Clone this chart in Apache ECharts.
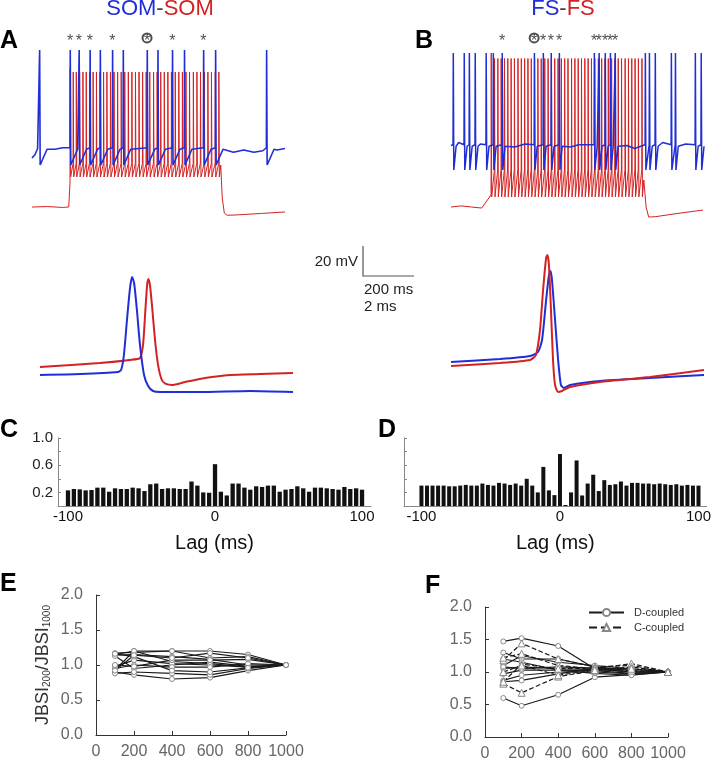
<!DOCTYPE html>
<html>
<head>
<meta charset="utf-8">
<script src="https://cdn.jsdelivr.net/npm/echarts@6/dist/echarts.min.js"></script>
<style>
html, body { margin: 0; padding: 0; background: #fff; }
#main { width: 714px; height: 762px; }
</style>
</head>
<body>
<div id="main"></div>
<script>
var chart = echarts.init(document.getElementById('main'));
var FONT = 'Liberation Sans, Arial, sans-serif';
var BLUE = '#1f2ed6', RED = '#d42222';

// ---- A / B : spike times (ms) ----
var aBlueSpikes = [29, 149, 184, 227, 267, 315, 357, 451, 493, 550, 597, 672, 719, 919];
var aRedSpikes = [149, 161, 173, 186, 199, 212, 225, 239, 252, 266, 280, 293, 307, 321, 335, 349, 363, 377, 391, 405, 419, 433,
    447, 461, 476, 490, 504, 518, 532, 546, 561, 575, 589, 603, 617, 632, 646, 660, 675, 689, 703, 718, 732];
var aStars = [149, 184, 227, 315, 550, 672];
var aCircled = [451];
// baseline points (ms, mV offset)
var aBlueKeys = [[0, 44.7], [12, 47], [22, 51], [90, 50.5], [120, 51.5], [790, 48.5], [830, 50], [870, 48.5], [905, 49.5], [960, 50], [992, 51]];
var aRedKeys = [[0, 12], [60, 12.3], [120, 11.7], [144, 12], [740, 40], [746, 18], [754, 8], [765, 6.5], [800, 6.7], [900, 7.7], [992, 8.7]];

var bBlueSpikes = [8, 51, 71, 94, 137, 165, 200, 326, 361, 392, 424, 561, 580, 604, 624, 643, 761, 777, 800, 863, 879, 957, 980];
var bRedSpikes = [157, 170, 183, 196, 209, 222, 235, 248, 262, 275, 288, 301, 314, 327, 340, 353, 367, 380, 393, 406, 419, 432,
    445, 458, 472, 485, 498, 511, 524, 537, 550, 563, 577, 590, 603, 616, 629, 642, 655, 668, 682, 695, 708, 721, 734, 748];
var bStars = [200, 361, 392, 424, 561, 580, 604, 624, 643];
var bCircled = [326];
var bBlueKeys = [[0, 53], [30, 55], [115, 54], [250, 52], [290, 54], [470, 52], [500, 53.5], [690, 53], [720, 51], [830, 55], [920, 54], [988, 52]];
var bRedKeys = [[0, 12], [40, 12.7], [80, 12], [120, 11.3], [155, 12], [756, 30], [765, 12], [775, 5.3], [800, 5.5], [880, 7.5], [988, 10]];

// ---- single spikes (ms, mV offset) ----
var saBlue = [[0, 16.7], [1.57, 17.3], [3.06, 18.7], [3.18, 20], [3.29, 30], [3.41, 53.3], [3.53, 74.7], [3.61, 82], [3.69, 78], [3.80, 60],
    [3.92, 36.7], [4.08, 16.7], [4.24, 9.3], [4.43, 6], [4.71, 5.3], [6.27, 5.3], [8.24, 6], [9.92, 5.3]];
var saRed = [[0, 22], [2.35, 24.7], [3.53, 26.7], [3.92, 28], [4.04, 36.7], [4.12, 56.7], [4.20, 76.7], [4.25, 80.7], [4.31, 76.7], [4.39, 63.3],
    [4.51, 40], [4.63, 23.3], [4.78, 13.3], [4.94, 10.7], [5.18, 10], [5.69, 12], [6.47, 14.7], [7.45, 16.7], [8.63, 17.3], [9.92, 18]];
var sbBlue = [[0, 25.3], [1.92, 27.3], [3.10, 29.3], [3.41, 32], [3.57, 40], [3.73, 66.7], [3.84, 83.3], [3.90, 86], [3.96, 80], [4.08, 53.3],
    [4.20, 26.7], [4.31, 10], [4.43, 8], [4.67, 10], [5.84, 12.7], [7.80, 14.7], [9.92, 16.7]];
var sbRed = [[0, 22.7], [1.92, 24.7], [3.10, 26.7], [3.33, 30], [3.49, 46.7], [3.61, 73.3], [3.73, 94.7], [3.78, 96.7], [3.84, 90], [3.92, 60],
    [4.00, 26.7], [4.08, 10], [4.20, 5.3], [4.35, 6], [4.67, 8.7], [5.84, 12], [7.80, 15.3], [9.92, 20]];

// ---- C / D : cross-correlograms ----
var lags = [-100, -96, -92, -88, -84, -80, -76, -72, -68, -64, -60, -56, -52, -48, -44, -40, -36, -32, -28, -24, -20, -16, -12, -8, -4, 0,
    4, 8, 12, 16, 20, 24, 28, 32, 36, 40, 44, 48, 52, 56, 60, 64, 68, 72, 76, 80, 84, 88, 92, 96, 100];
var cValues = [0.23, 0.25, 0.245, 0.23, 0.235, 0.27, 0.27, 0.21, 0.26, 0.25, 0.25, 0.27, 0.26, 0.22, 0.32, 0.33, 0.25, 0.26, 0.26, 0.25,
    0.25, 0.36, 0.30, 0.20, 0.195, 0.615,
    0.21, 0.155, 0.33, 0.33, 0.27, 0.24, 0.29, 0.28, 0.30, 0.30, 0.21, 0.24, 0.25, 0.29, 0.26, 0.21, 0.27, 0.27, 0.26, 0.25, 0.24, 0.28, 0.25, 0.26, 0.24];
var dValues = [0.30, 0.30, 0.30, 0.30, 0.30, 0.29, 0.29, 0.30, 0.31, 0.30, 0.30, 0.33, 0.31, 0.30, 0.34, 0.33, 0.31, 0.33, 0.30,
    0.40, 0.30, 0.20, 0.575, 0.23, 0.16, 0.765,
    0.015, 0.20, 0.67, 0.155, 0.33, 0.46, 0.22, 0.38, 0.31, 0.32, 0.36, 0.30, 0.34, 0.34, 0.33, 0.33, 0.32, 0.33, 0.32, 0.31, 0.32, 0.30, 0.31, 0.30, 0.30];

// ---- E / F : JBSI ratios ----
var binSizes = [100, 200, 400, 600, 800, 1000];
var eRatios = [
    [1.15, 1.20, 1.20, 1.20, 1.15, 1.0],
    [1.17, 1.18, 1.20, 1.10, 1.12, 1.0],
    [1.14, 1.15, 1.12, 1.08, 1.00, 1.0],
    [0.93, 1.20, 1.05, 1.02, 0.97, 1.0],
    [1.13, 0.95, 1.00, 1.04, 0.98, 1.0],
    [0.90, 0.86, 0.80, 0.82, 0.92, 1.0],
    [0.88, 0.90, 0.88, 0.86, 0.95, 1.0],
    [0.98, 1.07, 1.02, 1.00, 0.97, 1.0],
    [0.95, 1.00, 0.97, 0.97, 1.02, 1.0],
    [1.16, 1.12, 0.92, 0.90, 0.96, 1.0],
    [1.00, 0.98, 1.07, 1.07, 1.08, 1.0],
    [0.92, 1.14, 1.10, 1.17, 1.10, 1.0]
];
var fDCoupled = [
    [1.47, 1.52, 1.40, 1.05, 1.00, 1.0],
    [0.60, 0.48, 0.65, 0.92, 0.96, 1.0],
    [1.30, 1.20, 1.20, 1.08, 1.02, 1.0],
    [1.10, 1.25, 1.15, 1.10, 1.05, 1.0],
    [1.05, 1.08, 1.05, 1.04, 1.00, 1.0],
    [0.97, 1.03, 1.03, 1.02, 0.98, 1.0],
    [0.87, 0.95, 1.00, 1.00, 0.97, 1.0],
    [0.85, 0.87, 0.97, 1.06, 1.00, 1.0],
    [1.08, 1.05, 1.08, 1.06, 1.05, 1.0],
    [1.20, 1.15, 1.03, 0.98, 0.95, 1.0]
];
var fCCoupled = [
    [1.18, 1.44, 1.20, 1.08, 1.10, 1.0],
    [1.22, 1.28, 1.10, 1.05, 1.13, 1.0],
    [0.82, 0.68, 0.93, 1.02, 1.08, 1.0],
    [0.85, 1.12, 1.05, 1.06, 1.02, 1.0],
    [1.00, 1.10, 0.95, 1.03, 1.05, 1.0]
];

// spike train -> polyline points (each spike: pre level, peak, trough, optional recovery)
function buildTrace(spikes, lv, keys) {
    var pts = [];
    var win = lv.recT || lv.fall;
    spikes.forEach(function (t, i) {
        var next = i + 1 < spikes.length ? spikes[i + 1] : Infinity;
        pts.push([t, i === 0 && lv.onset != null ? lv.onset : lv.pre]);
        pts.push([t + lv.rise, i === 0 && lv.firstPeak ? lv.firstPeak : lv.peak]);
        pts.push([t + lv.fall, lv.trough]);
        if (lv.recT && next - t > lv.recT + 4) pts.push([t + lv.recT, lv.rec]);
    });
    keys.forEach(function (k) {
        var clash = spikes.some(function (t) { return k[0] > t - 4 && k[0] < t + win + 4; });
        if (!clash) pts.push(k);
    });
    return pts.sort(function (a, b) { return a[0] - b[0]; });
}

var aBlue = buildTrace(aBlueSpikes, {pre: 51.5, rise: 1, peak: 116.7, fall: 3, trough: 40, rec: 50.5, recT: 30}, aBlueKeys);
var aRed = buildTrace(aRedSpikes, {onset: 28, pre: 41, rise: 0.7, peak: 102, firstPeak: 105, fall: 2.5, trough: 32}, aRedKeys);
var bBlue = buildTrace(bBlueSpikes, {pre: 53.5, rise: 1, peak: 114.7, fall: 3, trough: 36.7, rec: 52.5, recT: 12}, bBlueKeys);
var bRed = buildTrace(bRedSpikes, {onset: 20, pre: 36.7, rise: 0.7, peak: 111, firstPeak: 114.7, fall: 2.5, trough: 18.7}, bRedKeys);

function trace(data, color, width, idx, smooth) {
    return {type: 'line', data: data, xAxisIndex: idx, yAxisIndex: idx, showSymbol: false, symbol: 'none',
        smooth: smooth || false, sampling: 'none', silent: true,
        lineStyle: {color: color, width: width}};
}
function stars(times, idx, circled) {
    return {type: 'scatter', xAxisIndex: idx, yAxisIndex: idx, silent: true,
        data: times.map(function (t) { return [t, 124.7]; }),
        symbol: circled ? 'emptyCircle' : 'circle', symbolSize: circled ? 9 : 1,
        itemStyle: circled ? {color: '#222', borderColor: '#222', borderWidth: 1} : {color: 'rgba(0,0,0,0)'},
        label: {show: true, formatter: '*', position: 'inside', offset: [0, 4], fontSize: 16, color: '#222', fontFamily: FONT}};
}
function hiddenAxes(idx, min, max) {
    return {gridIndex: idx, type: 'value', min: min, max: max, show: false};
}

var series = [
    trace(aRed, RED, 1, 0), trace(aBlue, BLUE, 1.6, 0), stars(aStars, 0, false), stars(aCircled, 0, true),
    trace(bRed, RED, 1, 1), trace(bBlue, BLUE, 1.5, 1), stars(bStars, 1, false), stars(bCircled, 1, true),
    trace(saRed, RED, 2, 2, 0.2), trace(saBlue, BLUE, 2, 2, 0.2),
    trace(sbBlue, BLUE, 2, 3, 0.2), trace(sbRed, RED, 2, 3, 0.2),
    {type: 'bar', xAxisIndex: 4, yAxisIndex: 4, barWidth: 4.3, silent: true, itemStyle: {color: '#111'},
        data: lags.map(function (l, i) { return [l, cValues[i]]; })},
    {type: 'bar', xAxisIndex: 5, yAxisIndex: 5, barWidth: 4, silent: true, itemStyle: {color: '#111'},
        data: lags.map(function (l, i) { return [l, dValues[i]]; })}
];
function ratioLine(vals, idx, name, dashed) {
    return {type: 'line', name: name, xAxisIndex: idx, yAxisIndex: idx, silent: true,
        data: binSizes.map(function (b, i) { return [b, vals[i]]; }),
        symbol: dashed ? 'triangle' : 'circle', symbolSize: dashed ? 7 : 5,
        itemStyle: {color: '#fff', borderColor: '#888', borderWidth: 1},
        lineStyle: {color: '#1a1a1a', width: 1.2, type: dashed ? 'dashed' : 'solid'}};
}
eRatios.forEach(function (r) { series.push(ratioLine(r, 6, 'E')); });
fDCoupled.forEach(function (r) { series.push(ratioLine(r, 7, 'D-coupled', false)); });
fCCoupled.forEach(function (r) { series.push(ratioLine(r, 7, 'C-coupled', true)); });

var tickLbl = {color: '#666', fontSize: 16, fontFamily: FONT};
var darkLine = {lineStyle: {color: '#333', width: 1}};
var plain = function (v) { return String(v); };

var option = {
    animation: false,
    backgroundColor: '#fff',
    grid: [
        {left: 32, top: 30, width: 253, height: 195},
        {left: 451, top: 30, width: 252, height: 195},
        {left: 40, top: 250, width: 253, height: 150},
        {left: 451, top: 250, width: 253, height: 150},
        {left: 58, top: 438, width: 313, height: 68},
        {left: 404, top: 438, width: 308, height: 68},
        {left: 96, top: 595, width: 190, height: 140},
        {left: 485, top: 607, width: 183, height: 131}
    ],
    xAxis: [
        hiddenAxes(0, 0, 992), hiddenAxes(1, 0, 988), hiddenAxes(2, 0, 9.92), hiddenAxes(3, 0, 9.92),
        {gridIndex: 4, type: 'value', min: -106.8, max: 106.1, splitLine: {show: false},
            axisLine: {onZero: false, lineStyle: {color: '#888'}}, axisTick: {show: false},
            axisLabel: {customValues: [-100, 0, 100], color: '#111', fontSize: 15, fontFamily: FONT, margin: 3},
            name: 'Lag (ms)', nameLocation: 'middle', nameGap: 27,
            nameTextStyle: {color: '#111', fontSize: 20, fontFamily: FONT}},
        {gridIndex: 5, type: 'value', min: -112.6, max: 105.9, splitLine: {show: false},
            axisLine: {onZero: false, lineStyle: {color: '#888'}}, axisTick: {show: false},
            axisLabel: {customValues: [-100, 0, 100], color: '#111', fontSize: 15, fontFamily: FONT, margin: 3},
            name: 'Lag (ms)', nameLocation: 'middle', nameGap: 27,
            nameTextStyle: {color: '#111', fontSize: 20, fontFamily: FONT}},
        {gridIndex: 6, type: 'value', min: 0, max: 1000, interval: 200, splitLine: {show: false},
            axisLine: darkLine, axisTick: {inside: true, length: 4, lineStyle: {color: '#333'}},
            axisLabel: Object.assign({margin: 9, formatter: plain}, tickLbl)},
        {gridIndex: 7, type: 'value', min: 0, max: 1000, interval: 200, splitLine: {show: false},
            axisLine: darkLine, axisTick: {inside: true, length: 4, lineStyle: {color: '#333'}},
            axisLabel: Object.assign({margin: 9, formatter: plain}, tickLbl)}
    ],
    yAxis: [
        hiddenAxes(0, 0, 130), hiddenAxes(1, 0, 130), hiddenAxes(2, 0, 100), hiddenAxes(3, 0, 100),
        {gridIndex: 4, type: 'value', min: 0, max: 1, interval: 0.2, splitLine: {show: false},
            axisLine: {show: true, onZero: false, lineStyle: {color: '#888'}},
            axisTick: {show: true, inside: true, length: 3, lineStyle: {color: '#888'}},
            axisLabel: {color: '#222', fontSize: 15, fontFamily: FONT, margin: 5,
                formatter: function (v) { var r = Math.round(v * 10); return (r === 2 || r === 6 || r === 10) ? (r / 10).toFixed(1) : ''; }}},
        {gridIndex: 5, type: 'value', min: 0, max: 1, interval: 0.2, splitLine: {show: false},
            axisLine: {show: true, onZero: false, lineStyle: {color: '#888'}},
            axisTick: {show: true, inside: true, length: 3, lineStyle: {color: '#888'}},
            axisLabel: {show: false}},
        {gridIndex: 6, type: 'value', min: 0, max: 2, interval: 0.5, splitLine: {show: false},
            axisLine: {show: true, onZero: false, lineStyle: {color: '#333'}},
            axisTick: {show: true, inside: true, length: 4, lineStyle: {color: '#333'}},
            axisLabel: Object.assign({margin: 13, formatter: function (v) { return v.toFixed(1); }}, tickLbl),
            name: '{a|JBSI}{s|200}{a|/JBSI}{s|1000}', nameLocation: 'middle', nameGap: 44,
            nameTextStyle: {rich: {
                a: {fontSize: 18, color: '#333', fontFamily: FONT, lineHeight: 22, verticalAlign: 'bottom'},
                s: {fontSize: 10, color: '#333', fontFamily: FONT, lineHeight: 12, verticalAlign: 'bottom'}}}},
        {gridIndex: 7, type: 'value', min: 0, max: 2, interval: 0.5, splitLine: {show: false},
            axisLine: {show: true, onZero: false, lineStyle: {color: '#333'}},
            axisTick: {show: true, inside: true, length: 4, lineStyle: {color: '#333'}},
            axisLabel: Object.assign({margin: 13, formatter: function (v) { return v.toFixed(1); }}, tickLbl)}
    ],
    legend: {
        data: ['D-coupled', 'C-coupled'], left: 583, top: 602, orient: 'vertical', itemGap: 4,
        itemWidth: 35, itemHeight: 9, selectedMode: false,
        textStyle: {color: '#333', fontSize: 11, fontFamily: FONT, padding: [0, 0, 0, 5]}
    },
    graphic: [
        {type: 'text', x: 160, y: -2, style: {text: '{b|SOM}{g|-}{r|SOM}', align: 'center', verticalAlign: 'top',
            rich: {b: {fill: BLUE, fontSize: 22, fontFamily: FONT}, g: {fill: '#444', fontSize: 22, fontFamily: FONT},
                r: {fill: RED, fontSize: 22, fontFamily: FONT}}}},
        {type: 'text', x: 563, y: -2, style: {text: '{b|FS}{g|-}{r|FS}', align: 'center', verticalAlign: 'top',
            rich: {b: {fill: BLUE, fontSize: 22, fontFamily: FONT}, g: {fill: '#444', fontSize: 22, fontFamily: FONT},
                r: {fill: RED, fontSize: 22, fontFamily: FONT}}}},
        {type: 'text', x: 0, y: 29, style: {text: 'A', font: 'bold 25px ' + FONT, fill: '#000', verticalAlign: 'top'}},
        {type: 'text', x: 415, y: 29, style: {text: 'B', font: 'bold 25px ' + FONT, fill: '#000', verticalAlign: 'top'}},
        {type: 'text', x: 0, y: 418, style: {text: 'C', font: 'bold 25px ' + FONT, fill: '#000', verticalAlign: 'top'}},
        {type: 'text', x: 378, y: 418, style: {text: 'D', font: 'bold 25px ' + FONT, fill: '#000', verticalAlign: 'top'}},
        {type: 'text', x: 0, y: 572, style: {text: 'E', font: 'bold 25px ' + FONT, fill: '#000', verticalAlign: 'top'}},
        {type: 'text', x: 425, y: 574, style: {text: 'F', font: 'bold 25px ' + FONT, fill: '#000', verticalAlign: 'top'}},
        // scale bar
        {type: 'polyline', shape: {points: [[363, 246], [363, 276], [414, 276]]}, style: {stroke: '#555', lineWidth: 1.2, fill: null}},
        {type: 'text', x: 358, y: 262, style: {text: '20 mV', align: 'right', verticalAlign: 'middle', fontSize: 15, fontFamily: FONT, fill: '#222'}},
        {type: 'text', x: 364, y: 290, style: {text: '200 ms', align: 'left', verticalAlign: 'middle', fontSize: 15, fontFamily: FONT, fill: '#222'}},
        {type: 'text', x: 364, y: 307, style: {text: '2 ms', align: 'left', verticalAlign: 'middle', fontSize: 15, fontFamily: FONT, fill: '#222'}}
    ],
    series: series
};

chart.setOption(option);
</script>
</body>
</html>
